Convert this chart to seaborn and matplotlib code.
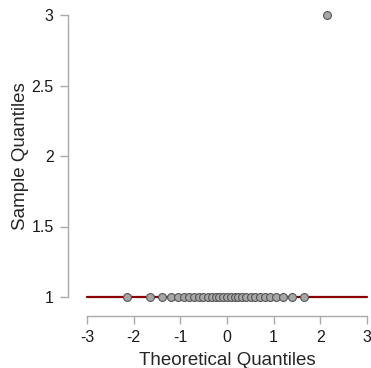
import matplotlib
matplotlib.use("Agg")
import matplotlib.pyplot as plt
import seaborn as sns
import pandas as pd

# Q-Q data: theoretical normal quantiles vs sample values
theoretical = [-2.14, -1.66, -1.40, -1.21, -1.06, -0.925, -0.807, -0.700, -0.600,
               -0.506, -0.416, -0.330, -0.245, -0.162, -0.081, 0.0, 0.081, 0.162,
               0.245, 0.330, 0.416, 0.506, 0.600, 0.700, 0.807, 0.925, 1.06, 1.21,
               1.40, 1.66, 2.14]
sample = [1] * 30 + [3]
line_x = [-3, 3]
line_y = [1, 1]
x_ticks = [-3, -2, -1, 0, 1, 2, 3]
y_ticks = [1, 1.5, 2, 2.5, 3]

sns.set_theme(style="ticks")
plt.rcParams["font.family"] = ["Liberation Sans", "DejaVu Sans"]

df = pd.DataFrame({"theoretical": theoretical, "sample": sample})

fig = plt.figure(figsize=(3.71, 3.68), dpi=100)
ax = fig.add_axes([87 / 371, 1 - 297 / 368, 280 / 371, 282 / 368])

ax.plot(line_x, line_y, color="#8B0000", linewidth=1.6, zorder=2, clip_on=False)
sns.scatterplot(data=df, x="theoretical", y="sample", ax=ax, s=32,
                color="#A6A6A6", edgecolor="#555555", linewidth=0.8,
                zorder=3, clip_on=False, legend=False)

ax.set_xlim(-3, 3)
ax.set_ylim(1, 3)
ax.set_xticks(x_ticks)
ax.set_xticklabels(["-3", "-2", "-1", "0", "1", "2", "3"])
ax.set_yticks(y_ticks)
ax.set_yticklabels(["1", "1.5", "2", "2.5", "3"])

for side in ["top", "right"]:
    ax.spines[side].set_visible(False)
for side in ["left", "bottom"]:
    ax.spines[side].set_position(("outward", 14))
    ax.spines[side].set_color("#AAAAAA")
    ax.spines[side].set_linewidth(1.0)
ax.spines["bottom"].set_bounds(-3, 3)
ax.spines["left"].set_bounds(1, 3)

ax.tick_params(axis="both", colors="#AAAAAA", length=6, width=1.0,
               labelsize=11.5, labelcolor="#1a1a1a", pad=4)

ax.set_xlabel("Theoretical Quantiles", fontsize=13.5, labelpad=5)
ax.set_ylabel("Sample Quantiles", fontsize=13.5, labelpad=2)

fig.savefig("out.png", dpi=100)
